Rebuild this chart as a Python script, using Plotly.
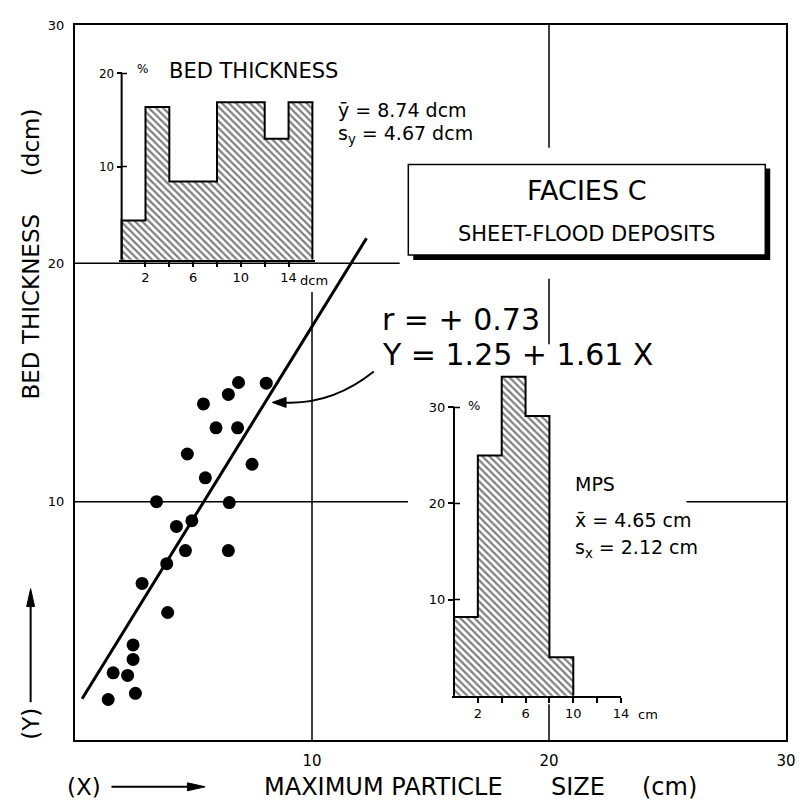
import plotly.graph_objects as go

# ---------------- data ----------------
# scatter: maximum particle size X (cm) vs bed thickness Y (dcm)
mps_x = [6.90, 8.07, 6.47, 5.42, 5.95, 6.86, 4.74, 7.47, 5.50, 3.44, 6.51, 4.93,
         4.28, 4.66, 6.47, 3.87, 2.83, 3.91, 2.45, 2.45, 1.61, 2.22, 2.55, 1.40]
bed_y = [15.00, 14.97, 14.50, 14.10, 13.10, 13.10, 12.00, 11.57, 11.00, 10.00, 9.96, 9.20,
         8.96, 7.95, 7.95, 7.40, 6.57, 5.35, 3.99, 3.38, 2.82, 2.71, 1.96, 1.70]

# regression line as printed on the chart
reg_intercept = 1.25
reg_slope = 1.61
reg_x_ends = [0.3, 12.3]

# bed thickness histogram (dcm, %)
bed_bin_edges = [0, 2, 4, 6, 8, 10, 12, 14, 16]
bed_pct = [4.2, 16.4, 8.4, 8.4, 16.9, 16.9, 13.0, 16.9]
bed_tick_vals = [2, 6, 10, 14]
bed_minor_ticks = [4, 8, 12]
bed_pct_ticks = [10, 20]

# maximum particle size histogram (cm, %)
mps_bin_edges = [0, 2, 4, 6, 8, 10]
mps_pct = [8.2, 25.0, 33.2, 29.1, 4.0]
mps_tick_vals = [2, 6, 10, 14]
mps_minor_ticks = [4, 8, 12]
mps_pct_ticks = [10, 20, 30]

main_ticks = [10, 20, 30]

# ---------------- layout geometry ----------------
OFF = 8                      # default page margin of the html body
W, H = 806 - OFF, 804 - OFF
ML, MR, MT, MB = 67, 10, 14, 64
PW, PH = W - ML - MR, H - MT - MB
FONT = "DejaVu Sans"


def px(xr):   # reference-picture pixel -> paper fraction
    return (xr - OFF - ML) / PW


def py(yr):
    return (H - MB - (yr - OFF)) / PH


def dx(xr):   # reference-picture pixel -> main data units
    return px(xr) * 30


def dy(yr):
    return py(yr) * 30


def centers(edges):
    return [(a + b) / 2 for a, b in zip(edges[:-1], edges[1:])]


def widths(edges):
    return [b - a for a, b in zip(edges[:-1], edges[1:])]


def step_xy(edges, vals):
    xs = [edges[0]] + list(edges[:-1]) + [edges[-1], edges[-1]]
    ys = [0] + list(vals) + [vals[-1], 0]
    return xs, ys


fig = go.Figure()

# scatter + regression
fig.add_trace(go.Scatter(x=mps_x, y=bed_y, mode="markers",
                         marker=dict(color="black", size=13), xaxis="x", yaxis="y"))
fig.add_trace(go.Scatter(x=reg_x_ends, y=[reg_intercept + reg_slope * v for v in reg_x_ends],
                         mode="lines", line=dict(color="black", width=3), xaxis="x", yaxis="y"))

pattern = dict(shape="\\", fgcolor="black", bgcolor="white", size=5, solidity=0.45)

# inset 1: bed thickness
fig.add_trace(go.Bar(x=centers(bed_bin_edges), y=bed_pct, width=widths(bed_bin_edges),
                     marker=dict(color="white", pattern=pattern, line=dict(width=0)),
                     xaxis="x2", yaxis="y2"))
sx, sy = step_xy(bed_bin_edges, bed_pct)
fig.add_trace(go.Scatter(x=sx, y=sy, mode="lines", line=dict(color="black", width=2, shape="hv"),
                         xaxis="x2", yaxis="y2"))

# inset 2: MPS
fig.add_trace(go.Bar(x=centers(mps_bin_edges), y=mps_pct, width=widths(mps_bin_edges),
                     marker=dict(color="white", pattern=pattern, line=dict(width=0)),
                     xaxis="x3", yaxis="y3"))
sx, sy = step_xy(mps_bin_edges, mps_pct)
fig.add_trace(go.Scatter(x=sx, y=sy, mode="lines", line=dict(color="black", width=2, shape="hv"),
                         xaxis="x3", yaxis="y3"))

# inset geometry (reference pixels)
b_x0, b_ppu, b_base, b_ppp = 122.3, 12.09, 257.7, 9.35
m_x0, m_ppu, m_base, m_ppp = 459.3, 12.1, 695.5, 9.65
b_xr = [-0.2, 16.2]
b_yr = [0, 21]
m_xr = [-0.2, 14.0]
m_yr = [0, 34]

axcommon = dict(showgrid=False, zeroline=False, color="black")
tickfont_in = dict(family=FONT, size=13, color="black")
minor_common = dict(ticks="outside", ticklen=5, tickwidth=1.5, tickcolor="black", showgrid=False)

fig.update_layout(
    width=W, height=H,
    margin=dict(l=ML, r=MR, t=MT, b=MB),
    paper_bgcolor="white", plot_bgcolor="white",
    showlegend=False, hovermode=False, bargap=0,
    xaxis=dict(range=[0, 30], domain=[0, 1], showline=True, linewidth=2, linecolor="black",
               mirror=True, tickvals=main_ticks, ticks="", ticklabelstandoff=6,
               tickfont=dict(family=FONT, size=15, color="black"), **axcommon),
    yaxis=dict(range=[0, 30], domain=[0, 1], showline=True, linewidth=2, linecolor="black",
               mirror=True, tickvals=main_ticks, ticks="", ticklabelstandoff=6,
               tickfont=dict(family=FONT, size=13, color="black"), **axcommon),
    xaxis2=dict(range=b_xr, anchor="y2",
                domain=[px(b_x0 + b_xr[0] * b_ppu), px(b_x0 + b_xr[1] * b_ppu)],
                showline=True, linewidth=2, linecolor="black",
                tickvals=bed_tick_vals, ticks="outside",
                ticklen=5, tickwidth=1.5, tickcolor="black", tickfont=tickfont_in,
                minor=dict(tickvals=bed_minor_ticks, **minor_common), **axcommon),
    yaxis2=dict(range=b_yr, anchor="free", position=px(b_x0),
                domain=[py(b_base), py(b_base - b_yr[1] * b_ppp)],
                showline=False, tickvals=bed_pct_ticks, ticks="outside", ticklen=5,
                tickwidth=1.5, tickcolor="black", tickfont=dict(family=FONT, size=12, color="black"),
                **axcommon),
    xaxis3=dict(range=m_xr, anchor="y3",
                domain=[px(m_x0 + m_xr[0] * m_ppu), px(m_x0 + m_xr[1] * m_ppu)],
                showline=True, linewidth=2, linecolor="black",
                tickvals=mps_tick_vals, ticks="outside",
                ticklen=5, tickwidth=1.5, tickcolor="black", tickfont=tickfont_in,
                minor=dict(tickvals=mps_minor_ticks, **minor_common), **axcommon),
    yaxis3=dict(range=m_yr, anchor="free", position=px(m_x0),
                domain=[py(m_base), py(m_base - m_yr[1] * m_ppp)],
                showline=False, tickvals=mps_pct_ticks, ticks="outside", ticklen=6,
                tickwidth=1.5, tickcolor="black", tickfont=dict(family=FONT, size=13, color="black"),
                **axcommon),
)

shapes = []
gl = dict(color="black", width=1.5)
# partial grid lines of the main frame
for x0, y0, x1, y1 in [(10, 0, 10, 18.8), (20, 30, 20, 24.85), (20, 19.35, 20, 16.6),
                       (20, 1.5, 20, 0), (0, 20, 13.7, 20), (0, 10, 14.05, 10), (25.8, 10, 30, 10)]:
    shapes.append(dict(type="line", xref="x", yref="y", x0=x0, y0=y0, x1=x1, y1=y1,
                       line=gl, layer="below"))
# inset vertical axes and inner half of ticks
shapes.append(dict(type="line", xref="x2", yref="y2", x0=0, y0=0, x1=0, y1=bed_pct_ticks[-1],
                   line=dict(color="black", width=2)))
for t in bed_pct_ticks:
    shapes.append(dict(type="line", xref="x2", yref="y2", x0=0, x1=0.45, y0=t, y1=t,
                       line=dict(color="black", width=1.5)))
shapes.append(dict(type="line", xref="x3", yref="y3", x0=0, y0=0, x1=0, y1=mps_pct_ticks[-1],
                   line=dict(color="black", width=2)))
for t in mps_pct_ticks:
    shapes.append(dict(type="line", xref="x3", yref="y3", x0=0, x1=0.5, y0=t, y1=t,
                       line=dict(color="black", width=1.5)))
# title box with shadow
shapes.append(dict(type="rect", xref="x", yref="y", x0=dx(418), x1=dx(780), y0=dy(258), y1=dy(166),
                   fillcolor="black", line=dict(width=0)))
shapes.append(dict(type="rect", xref="x", yref="y", x0=dx(413), x1=dx(775), y0=dy(253), y1=dy(162),
                   fillcolor="white", line=dict(color="black", width=1.5)))
# curved arrow to the regression line
shapes.append(dict(type="path", xref="x", yref="y",
                   path=f"M {dx(378)},{dy(370)} Q {dx(335)},{dy(404)} {dx(286)},{dy(401)}",
                   line=dict(color="black", width=2)))


def tri(tip, b1, b2):
    return dict(type="path", xref="paper", yref="paper",
                path=f"M {px(tip[0])},{py(tip[1])} L {px(b1[0])},{py(b1[1])} "
                     f"L {px(b2[0])},{py(b2[1])} Z",
                fillcolor="black", line=dict(color="black", width=1))


shapes.append(tri((275, 401), (289, 396), (289, 406)))
# (Y) arrow
shapes.append(dict(type="line", xref="paper", yref="paper", x0=px(30), x1=px(30), y0=py(702),
                   y1=py(602), line=dict(color="black", width=2)))
shapes.append(tri((30, 588), (26, 606), (34, 606)))
# (X) arrow
shapes.append(dict(type="line", xref="paper", yref="paper", x0=px(112), x1=px(192), y0=py(787),
                   y1=py(787), line=dict(color="black", width=2)))
shapes.append(tri((207, 787), (189, 783), (189, 791)))
fig.update_layout(shapes=shapes)

ann = []


def txt(text, x, y, size, xanchor="left", xref="x", yref="y", angle=0):
    ann.append(dict(text=text, x=x, y=y, xref=xref, yref=yref, showarrow=False,
                    xanchor=xanchor, yanchor="middle", textangle=angle,
                    font=dict(family=FONT, size=size, color="black")))


txt("BED THICKNESS", dx(168), dy(68), 21)
txt("%", dx(136), dy(66), 12)
txt("ȳ = 8.74 dcm", dx(340), dy(107), 19)
txt("s<sub>y</sub> = 4.67 dcm", dx(340), dy(132), 19)
txt("dcm", dx(301), dy(279), 13)
txt("FACIES C", dx(594), dy(188), 27, "center")
txt("SHEET-FLOOD DEPOSITS", dx(594), dy(232), 21, "center")
txt("r = + 0.73", dx(384), dy(318), 30)
txt("Y = 1.25 + 1.61 X", dx(384), dy(353), 30)
txt("%", dx(472), dy(404), 13)
txt("MPS", dx(580), dy(483), 19)
txt("x\u0304 = 4.65 cm", dx(580), dy(519), 19)
txt("s<sub>x</sub> = 2.12 cm", dx(580), dy(548), 19)
txt("cm", dx(644), dy(714), 13)
# axis titles
txt("BED THICKNESS", px(30), py(305), 23, "center", "paper", "paper", -90)
txt("(dcm)", px(30), py(140), 23, "center", "paper", "paper", -90)
txt("(Y)", px(30), py(724), 23, "center", "paper", "paper", -90)
txt("(X)", px(84), py(787), 23, "center", "paper", "paper")
txt("MAXIMUM PARTICLE", px(265), py(787), 24, "left", "paper", "paper")
txt("SIZE", px(585), py(787), 24, "center", "paper", "paper")
txt("(cm)", px(678), py(787), 24, "center", "paper", "paper")
fig.update_layout(annotations=ann)

fig.write_html("out.html")
